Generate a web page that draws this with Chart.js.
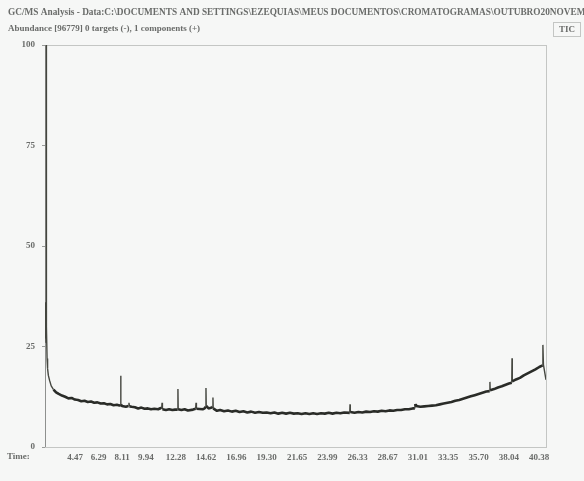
<!DOCTYPE html>
<html>
<head>
<meta charset="utf-8">
<script src="https://cdn.jsdelivr.net/npm/chart.js@4.4.1/dist/chart.umd.min.js"></script>
<style>
  body { margin: 0; background: #f6f7f6; }
  #wrap { width: 584px; height: 481px; }
</style>
</head>
<body>
<div id="wrap"><canvas id="tic"></canvas></div>
<script>
// retention time (min) and abundance (% of 96779)
let times = [
  2.14, 2.16, 2.18, 2.20, 2.22, 2.24, 2.26, 2.30, 2.34, 2.40, 2.50, 2.62, 2.80, 3.00, 3.20, 3.45, 3.70, 3.95,
  4.20, 4.45, 4.70, 4.95, 5.20, 5.45, 5.70, 5.95, 6.20, 6.45, 6.70, 6.95, 7.20, 7.45, 7.70, 7.90,
  7.98, 8.00, 8.02, 8.10, 8.40, 8.60, 8.64, 8.68, 8.85, 9.10, 9.35, 9.60, 9.85, 10.10, 10.35, 10.60, 10.90, 11.10,
  11.17, 11.20, 11.23, 11.50, 11.75, 12.00, 12.20, 12.41, 12.43, 12.45, 12.70, 12.95, 13.20, 13.60, 13.80, 13.83,
  13.86, 14.35, 14.50, 14.58, 14.60, 14.62, 14.80, 15.05, 15.12, 15.14, 15.16, 15.45, 15.70, 16.00, 16.30, 16.60,
  16.90, 17.20, 17.50, 17.80, 18.10, 18.40, 18.70, 19.00, 19.30, 19.60, 19.90, 20.20, 20.50, 20.80,
  21.10, 21.40, 21.70, 22.00, 22.30, 22.60, 22.90, 23.20, 23.50, 23.80, 24.10, 24.40, 24.70, 25.00,
  25.30, 25.73, 25.75, 25.77, 26.10, 26.40, 26.70, 27.00, 27.30, 27.60, 27.90, 28.20, 28.50, 28.80,
  29.10, 29.40, 29.70, 30.00, 30.30, 30.60, 30.77, 30.79, 30.85, 31.20, 31.50, 31.80, 32.10, 32.40,
  32.70, 33.00, 33.30, 33.60, 33.90, 34.20, 34.50, 34.80, 35.10, 35.40, 35.70, 36.00, 36.30, 36.56,
  36.58, 36.60, 36.90, 37.20, 37.50, 37.80, 38.05, 38.27, 38.29, 38.31, 38.60, 38.90, 39.20, 39.50,
  39.80, 40.10, 40.40, 40.66, 40.68, 40.72, 40.92
];
let abundance = [
  31.0, 36.0, 27.0, 34.0, 26.0, 100.0, 30.0, 22.0, 19.5, 17.8, 16.5, 15.2, 14.3, 13.6, 13.2, 12.8, 12.5, 12.1,
  12.2, 11.8, 11.7, 11.4, 11.5, 11.2, 11.3, 11.0, 11.1, 10.8, 10.9, 10.6, 10.7, 10.4, 10.5, 10.3,
  10.4, 17.7, 10.6, 10.2, 10.0, 10.2, 11.0, 10.1, 10.0, 9.9, 9.6, 9.8, 9.5, 9.6, 9.4, 9.5, 9.4, 9.7,
  9.5, 11.0, 9.4, 9.2, 9.4, 9.2, 9.3, 9.3, 14.4, 9.4, 9.2, 9.4, 9.1, 9.3, 9.5, 11.0,
  9.5, 9.4, 9.6, 10.0, 14.7, 10.2, 9.6, 9.8, 10.0, 12.3, 9.6, 9.0, 9.2, 8.9, 9.1, 8.8,
  9.0, 8.7, 8.9, 8.6, 8.8, 8.5, 8.7, 8.5, 8.6, 8.4, 8.6, 8.3, 8.5, 8.3,
  8.5, 8.3, 8.4, 8.2, 8.4, 8.2, 8.4, 8.2, 8.4, 8.3, 8.5, 8.3, 8.5, 8.4,
  8.6, 8.5, 10.6, 8.7, 8.5, 8.7, 8.6, 8.8, 8.7, 8.9, 8.8, 9.0, 8.9, 9.1,
  9.0, 9.2, 9.2, 9.4, 9.4, 9.6, 9.6, 10.7, 10.2, 10.0, 10.1, 10.2, 10.3, 10.4,
  10.6, 10.8, 11.0, 11.2, 11.5, 11.7, 12.0, 12.3, 12.6, 12.9, 13.2, 13.5, 13.8, 13.9,
  16.2, 14.1, 14.4, 14.8, 15.1, 15.5, 15.8, 16.0, 22.1, 16.3, 16.8, 17.2, 17.8, 18.3,
  18.8, 19.3, 19.9, 20.3, 25.4, 20.5, 16.7
];
let timeTicks = [4.47, 6.29, 8.11, 9.94, 12.28, 14.62, 16.96, 19.30, 21.65, 23.99, 26.33, 28.67, 31.01, 33.35, 35.70, 38.04, 40.38];
let abundanceTicks = [0, 25, 50, 75, 100];

let headerTitle = 'GC/MS Analysis - Data:C:\\DOCUMENTS AND SETTINGS\\EZEQUIAS\\MEUS DOCUMENTOS\\CROMATOGRAMAS\\OUTUBRO20NOVEM';
let headerSub = 'Abundance [96779] 0 targets (-), 1 components (+)';

let serif = '"Liberation Serif", "DejaVu Serif", serif';

// steep (peak) segments are drawn thin, the noisy baseline thick
let steep = ctx => Math.abs(ctx.p1.parsed.y - ctx.p0.parsed.y) > 0.75;

let frame = {
  id: 'frame',
  beforeDatasetsDraw(chart) {
    let c = chart.ctx, a = chart.chartArea;
    c.save();
    c.strokeStyle = '#c4c6c4';
    c.lineWidth = 1;
    c.strokeRect(a.left + 0.5, a.top + 0.5, a.right - a.left, a.bottom - a.top);
    c.strokeStyle = '#8e908e';
    c.beginPath();
    c.moveTo(a.left + 0.5, a.top);
    c.lineTo(a.left + 0.5, a.bottom);
    c.stroke();
    c.restore();
  },
  afterDraw(chart) {
    let c = chart.ctx;
    c.save();
    c.fillStyle = '#6a6c6a';
    c.textBaseline = 'middle';
    c.textAlign = 'left';
    c.font = 'bold 9.3px ' + serif;
    c.fillText(headerTitle, 8, 13);
    c.font = 'bold 9px ' + serif;
    c.fillText(headerSub, 8, 29);
    c.fillText('Time:', 7, 457);
    // TIC box
    c.strokeStyle = '#c4c6c4';
    c.strokeRect(553.5, 22.5, 27, 14);
    c.textAlign = 'center';
    c.fillText('TIC', 567, 30);
    c.restore();
  }
};

new Chart(document.getElementById('tic'), {
  type: 'scatter',
  data: {
    datasets: [{
      label: 'TIC',
      data: times.map((t, i) => ({ x: t, y: abundance[i] })),
      showLine: true,
      borderColor: '#2a2c28',
      borderWidth: 2.6,
      borderJoinStyle: 'bevel',
      pointRadius: 0,
      tension: 0,
      segment: {
        borderWidth: ctx => steep(ctx) ? 1.4 : undefined,
        borderColor: ctx => steep(ctx) ? '#44463f' : undefined
      }
    }]
  },
  options: {
    responsive: true,
    maintainAspectRatio: false,
    animation: false,
    layout: { padding: { top: 45, right: 38, left: 0, bottom: 0 } },
    plugins: { legend: { display: false }, tooltip: { enabled: false } },
    scales: {
      x: {
        type: 'linear',
        min: 2.14,
        max: 40.92,
        afterBuildTicks: s => { s.ticks = timeTicks.map(v => ({ value: v })); },
        afterFit: s => { s.height = 34; },
        grid: { display: false, drawTicks: false, tickLength: 0 },
        border: { display: false },
        ticks: {
          autoSkip: false,
          maxRotation: 0,
          padding: 5,
          color: '#6a6c6a',
          font: { family: serif, size: 9, weight: 'bold' },
          callback: v => v.toFixed(2)
        }
      },
      y: {
        min: 0,
        max: 100,
        afterBuildTicks: s => { s.ticks = abundanceTicks.map(v => ({ value: v })); },
        afterFit: s => { s.width = 45; },
        grid: { display: true, drawOnChartArea: false, tickLength: 3, color: '#9a9c9a' },
        border: { display: false },
        ticks: {
          padding: 7,
          color: '#6a6c6a',
          font: { family: serif, size: 9, weight: 'bold' }
        }
      }
    }
  },
  plugins: [frame]
});
</script>
</body>
</html>
